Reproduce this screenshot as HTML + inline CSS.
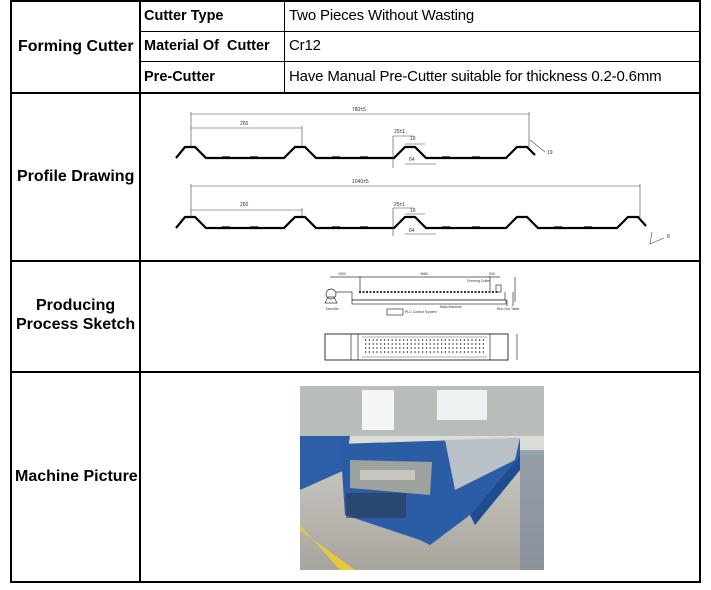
<!DOCTYPE html>
<html><head><style>
body{margin:0;width:711px;height:590px;background:#fff;position:relative;font-family:"Liberation Sans",Arial,sans-serif;overflow:hidden}
.l{position:absolute;background:#000}
.t{position:absolute;font-size:15px;white-space:nowrap;letter-spacing:-0.17px}
.b{font-weight:bold;font-size:14.5px;letter-spacing:0}
.m{font-weight:bold;font-size:16px;letter-spacing:0}
</style></head><body>
<div class="l" style="left:10px;top:0;width:691px;height:2px"></div>
<div class="l" style="left:10px;top:581px;width:691px;height:2px"></div>
<div class="l" style="left:10px;top:0;width:2px;height:583px"></div>
<div class="l" style="left:699px;top:0;width:2px;height:583px"></div>
<div class="l" style="left:139px;top:0;width:2px;height:583px"></div>
<div class="l" style="left:284px;top:0;width:1px;height:93px"></div>
<div class="l" style="left:139px;top:31px;width:562px;height:1px"></div>
<div class="l" style="left:139px;top:61px;width:562px;height:1px"></div>
<div class="l" style="left:10px;top:92px;width:691px;height:2px"></div>
<div class="l" style="left:10px;top:260px;width:691px;height:2px"></div>
<div class="l" style="left:10px;top:371px;width:691px;height:2px"></div>

<div class="t m" style="left:18px;top:38px">Forming Cutter</div>
<div class="t b" style="left:144px;top:8px">Cutter Type</div>
<div class="t b" style="left:144px;top:38px">Material Of &nbsp;Cutter</div>
<div class="t b" style="left:144px;top:69px">Pre-Cutter</div>
<div class="t" style="left:289px;top:7px">Two Pieces Without Wasting</div>
<div class="t" style="left:289px;top:37px">Cr12</div>
<div class="t" style="left:289px;top:68px">Have Manual Pre-Cutter suitable for thickness 0.2-0.6mm</div>
<div class="t m" style="left:17px;top:168px">Profile Drawing</div>
<div class="t m" style="left:36px;top:297px">Producing</div>
<div class="t m" style="left:16px;top:316px">Process Sketch</div>
<div class="t m" style="left:15px;top:468px">Machine Picture</div>

<svg style="position:absolute;left:0;top:0" width="711" height="590">
<g fill="none" stroke="#000" stroke-width="2.2">
<path d="M176,158 L185,147 L195,147 L206,158 L284,158 L295,147 L305,147 L316,158 L394,158 L405,147 L415,147 L426,158 L506,158 L517,147 L527,147 L535,155"/>
<path d="M176,228 L185,217 L195,217 L206,228 L284,228 L295,217 L305,217 L316,228 L394,228 L405,217 L415,217 L426,228 L506,228 L517,217 L527,217 L538,228 L617,228 L628,217 L638,217 L646,226"/>
</g>
<g stroke="#000" stroke-width="1.2">
<path d="M222,157 L230,157 M250,157 L258,157 M332,157 L340,157 M360,157 L368,157 M442,157 L450,157 M472,157 L480,157"/>
<path d="M222,227 L230,227 M250,227 L258,227 M332,227 L340,227 M360,227 L368,227 M442,227 L450,227 M472,227 L480,227 M554,227 L562,227 M584,227 L592,227"/>
</g>
<g fill="none" stroke="#444" stroke-width="0.6">
<path d="M191,114 L529,114 M191,112 L191,147 M529,112 L529,147"/>
<path d="M191,128 L302,128 M302,126 L302,147"/>
<path d="M393,136 L393,168 M393,136 L414,136 M405,144 L425,144 M405,164 L436,164"/>
<path d="M191,186 L640,186 M191,184 L191,217 M640,184 L640,217"/>
<path d="M191,210 L302,210 M302,208 L302,217"/>
<path d="M393,208 L393,236 M393,208 L414,208 M405,214 L425,214 M405,234 L436,234"/>
<path d="M530,140 L545,152 M652,232 L650,244 L664,238"/>
</g>
<g font-family="Liberation Sans" font-size="5" fill="#333">
<text x="352" y="111">780±5</text><text x="240" y="125">260</text>
<text x="394" y="133">25±1</text><text x="410" y="140">19</text><text x="409" y="161">64</text><text x="547" y="154">19</text>
<text x="352" y="183">1040±5</text><text x="240" y="206">260</text>
<text x="394" y="206">25±1</text><text x="410" y="212">19</text><text x="409" y="232">64</text><text x="667" y="238">8</text>
</g>
<g fill="none" stroke="#333" stroke-width="0.7">
<path d="M330,277 L360,277 M360,276 L360,292 M360,277 L490,277 M490,276 L490,292 M490,277 L500,277"/>
<circle cx="331" cy="294" r="5"/><path d="M325,303 L337,303 L334,297 L328,297Z"/>
<path d="M336,292 L352,292 L352,300 L505,300 L505,292"/>
<rect x="352" y="300" width="154" height="4"/>
<path d="M359,292 L498,292" stroke-dasharray="2,1.5" stroke-width="2"/>
<rect x="496" y="285" width="5" height="7"/>
<path d="M507,306 L507,300 M513,306 L513,292 M515,277 L515,302"/>
<rect x="387" y="309" width="16" height="6"/>
<rect x="325" y="334" width="183" height="26" stroke-width="1"/>
<path d="M351,334 L351,360 M358,334 L358,360 M490,334 L490,360"/>
<path d="M362,337 L487,337 M362,357 L487,357" stroke-width="0.4"/>
<path d="M365,340 L486,340 M365,344 L486,344 M365,348 L486,348 M365,352 L486,352" stroke-dasharray="1.2,2.6" stroke-width="1.5"/>
<path d="M517,334 L517,360"/>
</g>
<g font-family="Liberation Sans" font-size="3.5" fill="#333">
<text x="338" y="275">1500</text><text x="420" y="275">3680</text><text x="489" y="275">500</text>
<text x="467" y="282">Forming Cutter</text><text x="326" y="310">Decoiler</text>
<text x="440" y="308">Main Machine</text><text x="497" y="310">Run Out Table</text><text x="405" y="313">PLC Control System</text>
</g>
<defs>
<linearGradient id="fl" x1="0" y1="0" x2="0" y2="1"><stop offset="0" stop-color="#c9c8c2"/><stop offset="1" stop-color="#a8a59d"/></linearGradient>
</defs>
<rect x="300" y="386" width="244" height="184" fill="#dcdcd8"/>
<rect x="300" y="386" width="244" height="50" fill="#b8bdb9"/>
<rect x="437" y="390" width="50" height="30" fill="#eef1f1"/>
<rect x="362" y="390" width="32" height="40" fill="#f4f5f4"/>
<rect x="300" y="455" width="244" height="115" fill="url(#fl)"/>
<path d="M300,525 L340,570 L355,570 L300,530Z" fill="#e7c93a"/>
<path d="M300,436 L350,436 L345,470 L300,490Z" fill="#2d5fa8"/>
<path d="M338,444 L520,438 L520,455 L470,515 L430,545 L420,540 L345,515 L342,470Z" fill="#2b5ca6"/>
<path d="M445,440 L520,438 L515,460 L455,490Z" fill="#b9c0c8"/>
<path d="M350,460 L432,462 L430,495 L350,488Z" fill="#9ea29f"/>
<rect x="360" y="470" width="55" height="10" fill="#c8c7bf"/>
<path d="M520,455 L470,515 L475,525 L520,470Z" fill="#1f4d8f"/>
<rect x="520" y="450" width="24" height="120" fill="#7d8c9a" opacity="0.7"/>
<rect x="346" y="493" width="60" height="25" fill="#2a3a50" opacity="0.6"/>
</svg>
</body></html>
